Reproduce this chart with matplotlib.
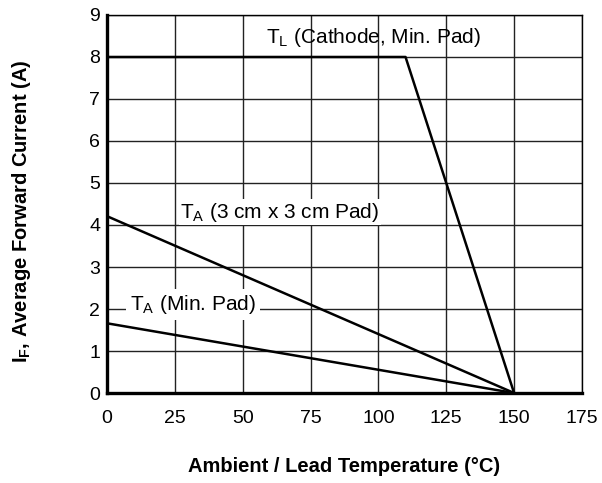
import matplotlib.pyplot as plt

plt.rcParams['font.family'] = ['Liberation Sans', 'DejaVu Sans']

# T_L (cathode, min pad)
tl_x = [0, 110, 150]
tl_y = [8.0, 8.0, 0.0]
# T_A (3 cm x 3 cm pad)
ta3_x = [0, 150]
ta3_y = [4.21, 0.0]
# T_A (min pad)
tam_x = [0, 150]
tam_y = [1.66, 0.0]

x_ticks = [0, 25, 50, 75, 100, 125, 150, 175]
y_ticks = [0, 1, 2, 3, 4, 5, 6, 7, 8, 9]

fig = plt.figure(figsize=(6.02, 4.83), dpi=100)
ax = fig.add_axes([0.1777, 0.1863, 0.789, 0.7827])
ax.set_xlim(0, 175)
ax.set_ylim(0, 9)
ax.set_xticks(x_ticks)
ax.set_yticks(y_ticks)
ax.grid(True, color='#222222', linewidth=1.0)
ax.set_axisbelow(True)
ax.tick_params(length=0, labelsize=14)
ax.tick_params(axis='x', pad=12)
ax.tick_params(axis='y', pad=5)
for s in ['top', 'right']:
    ax.spines[s].set_linewidth(1.0)
for s in ['left', 'bottom']:
    ax.spines[s].set_linewidth(2.4)

for xs, ys in [(tl_x, tl_y), (ta3_x, ta3_y), (tam_x, tam_y)]:
    ax.plot(xs, ys, color='black', linewidth=1.8, zorder=3)

ax.text(58.6, 8.33, r'T$_\mathregular{L}$ (Cathode, Min. Pad)', fontsize=15,
        ha='left', va='baseline', zorder=4)
ax.text(26.9, 4.17, r'T$_\mathregular{A}$ (3 cm x 3 cm Pad)', fontsize=15,
        ha='left', va='baseline', zorder=4,
        bbox=dict(facecolor='white', edgecolor='none', pad=1))
ax.text(8.5, 1.98, r'T$_\mathregular{A}$ (Min. Pad)', fontsize=15,
        ha='left', va='baseline', zorder=4,
        bbox=dict(facecolor='white', edgecolor='none', pad=3))

ax.set_xlabel('Ambient / Lead Temperature (°C)', fontsize=14.5, fontweight='bold', labelpad=22)
ax.set_ylabel(r'I$_\mathregular{F}$, Average Forward Current (A)', fontsize=14.5,
              fontweight='bold')
ax.yaxis.set_label_coords(-0.156, 0.48)

fig.savefig('out.png', dpi=100, facecolor='white')
